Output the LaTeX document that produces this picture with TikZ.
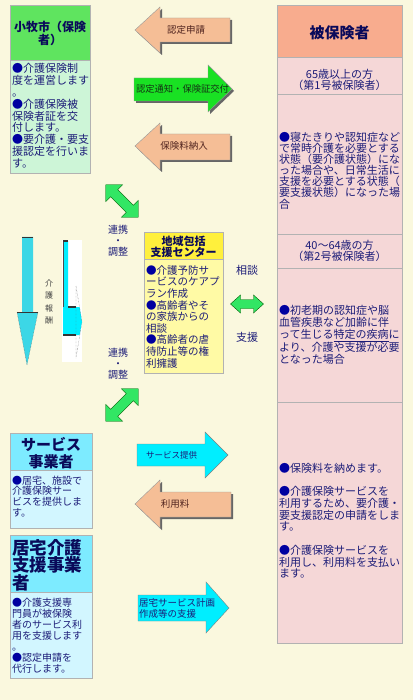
\documentclass[tikz,border=0pt]{standalone}
\usepackage{fontspec}
\setmainfont{Noto Sans CJK JP}
\usetikzlibrary{shadows}
\definecolor{bgcream}{RGB}{250,248,222}
\definecolor{navytext}{RGB}{28,28,120}
\definecolor{headtext}{RGB}{10,10,90}
\definecolor{bulletblue}{RGB}{0,0,160}
\definecolor{browntext}{RGB}{80,35,30}
\definecolor{darkgreentext}{RGB}{20,50,20}
\definecolor{komakihead}{RGB}{95,228,95}
\definecolor{komakibody}{RGB}{205,245,215}
\definecolor{insuredhead}{RGB}{248,172,142}
\definecolor{insuredbody}{RGB}{245,215,215}
\definecolor{centerhead}{RGB}{255,240,60}
\definecolor{centerbody}{RGB}{255,250,165}
\definecolor{servhead}{RGB}{125,235,255}
\definecolor{servbody}{RGB}{210,246,255}
\definecolor{orangefill}{RGB}{245,190,150}
\definecolor{greenfill}{RGB}{25,225,35}
\definecolor{cyanfill}{RGB}{0,238,255}
\definecolor{downcyan}{RGB}{60,215,230}
\definecolor{mintfill}{RGB}{50,230,100}
\newcommand{\jfs}[2]{\fontsize{#1}{#2}\selectfont}
\newcommand{\blt}{\textcolor{bulletblue}{●}}

\begin{document}
\begin{tikzpicture}[x=1pt,y=-1pt,
  cell/.style={draw=black!30,line width=0.5pt},
  body/.style={inner sep=0pt,anchor=north west,align=left,text=navytext},
  head/.style={inner sep=0pt,align=center,text=headtext},
  lbl/.style={inner sep=0pt,text=navytext},
  orangearrow/.style={fill=orangefill,draw=black!40,line width=0.4pt,drop shadow={shadow xshift=2pt,shadow yshift=-2pt,fill=black!60,opacity=1}},
  greenarrow/.style={fill=greenfill,draw=black!40,line width=0.4pt,drop shadow={shadow xshift=2pt,shadow yshift=-2pt,fill=black!60,opacity=1}},
  cyanarrow/.style={fill=cyanfill,draw=black!50,line width=0.4pt},
  twoway/.style={fill=mintfill,draw=green!35!black,line width=0.4pt},
  edge/.style={black!80,line width=1.4pt}]
\fill[bgcream] (0,0) rectangle (413,700);

\fill[komakihead] (10,5) rectangle (90,60);
\fill[komakibody] (10,60) rectangle (90,173);
\draw[cell] (10,5) rectangle (90,173);
\draw[cell] (10,60) -- (90,60);
\node[head,font=\bfseries\jfs{12}{13}] (komaki) at (50,33.5) {小牧市（保険\\者）};
\node[body,font=\jfs{11}{11.9}] (komakitext) at (12,63) {\blt 介護保険制\\度を運営します\\。\\\blt 介護保険被\\保険者証を交\\付します。\\\blt 要介護・要支\\援認定を行いま\\す。};

\fill[insuredhead] (277,5) rectangle (402,57);
\fill[insuredbody] (277,57) rectangle (402,643);
\draw[cell] (277,5) rectangle (402,643);
\foreach \yy in {57,94,234,268,402}
  \draw[cell] (277,\yy) -- (402,\yy);
\node[head,font=\bfseries\jfs{15}{16}] (insured) at (339.5,33) {被保険者};
\node[lbl,align=center,font=\jfs{11}{11.5}] (elder) at (339.5,80) {65歳以上の方\\（第1号被保険者）};
\node[body,font=\jfs{11}{11.1}] (eldertext) at (279,132) {\blt 寝たきりや認知症など\\で常時介護を必要とする\\状態（要介護状態）にな\\った場合や、日常生活に\\支援を必要とする状態（\\要支援状態）になった場\\合};
\node[lbl,align=center,font=\jfs{11}{11.5}] (middle) at (339.5,251) {40〜64歳の方\\（第2号被保険者）};
\node[body,font=\jfs{11}{12}] (middletext) at (279,305) {\blt 初老期の認知症や脳\\血管疾患など加齢に伴\\って生じる\underline{特定の疾病}に\\より、介護や支援が必要\\となった場合};
\node[body,font=\jfs{11}{11.7}] (duties) at (279,463) {\blt 保険料を納めます。\\[11.7pt]\blt 介護保険サービスを\\利用するため、要介護・\\要支援認定の申請をしま\\す。\\[11.7pt]\blt 介護保険サービスを\\利用し、利用料を支払い\\ます。};

\fill[centerhead] (144,232) rectangle (223,259);
\fill[centerbody] (144,259) rectangle (223,373);
\draw[cell] (144,232) rectangle (223,373);
\draw[cell] (144,259) -- (223,259);
\node[head,font=\bfseries\jfs{11}{10.5}] (center) at (183.5,247) {地域包括\\支援センター};
\node[body,font=\jfs{10.5}{11.6}] (centertext) at (146,265.3) {\blt 介護予防サ\\ービスのケアプ\\ラン作成\\\blt 高齢者やそ\\の家族からの\\相談\\\blt 高齢者の虐\\待防止等の権\\利擁護};

\fill[servhead] (10,433) rectangle (92,470);
\fill[servbody] (10,470) rectangle (92,528);
\draw[cell] (10,433) rectangle (92,528);
\draw[cell] (10,470) -- (92,470);
\node[head,font=\bfseries\jfs{15}{17}] (provider) at (51,453.5) {サービス\\事業者};
\node[body,font=\jfs{10}{10.7}] (providertext) at (12,475.5) {\blt 居宅、施設で\\介護保険サー\\ビスを提供しま\\す。};

\fill[servhead] (10,535) rectangle (92,592);
\fill[servbody] (10,592) rectangle (92,678);
\draw[cell] (10,535) rectangle (92,678);
\draw[cell] (10,592) -- (92,592);
\node[head,anchor=north west,align=left,font=\bfseries\jfs{17.5}{17.5}] (careplan) at (12,539) {居宅介護\\支援事業\\者};
\node[body,font=\jfs{10}{11}] (careplantext) at (12,597.5) {\blt 介護支援専\\門員が被保険\\者のサービス利\\用を支援します\\。\\\blt 認定申請を\\代行します。};

\filldraw[orangearrow] (135,30) -- (160,7) -- (160,18) -- (230,18) -- (230,42) -- (160,42) -- (160,53) -- cycle;
\node[lbl,font=\jfs{9.5}{10},text=browntext] (apply) at (186,30) {認定申請};
\filldraw[greenarrow] (134,78) -- (208,78) -- (208,65) -- (232,89) -- (208,112) -- (208,101) -- (134,101) -- cycle;
\node[lbl,font=\jfs{9.3}{10},text=darkgreentext] (notice) at (182.5,89) {認定通知・保険証交付};
\filldraw[orangearrow] (135,146) -- (160,123) -- (160,134) -- (230,134) -- (230,160) -- (160,160) -- (160,170) -- cycle;
\node[lbl,font=\jfs{9.5}{10},text=browntext] (premium) at (184,146) {保険料納入};

\filldraw[cyanarrow] (137,444) -- (205,444) -- (205,432) -- (228,455) -- (205,478) -- (205,466) -- (137,466) -- cycle;
\node[lbl,font=\jfs{8.5}{10}] (supply) at (171.5,455) {サービス提供};
\filldraw[orangearrow] (135,504) -- (160,480) -- (160,492) -- (231,492) -- (231,517) -- (160,517) -- (160,528) -- cycle;
\node[lbl,font=\jfs{9.5}{10},text=browntext] (charge) at (175,504) {利用料};
\filldraw[cyanarrow] (138,595) -- (206,595) -- (206,582) -- (229,608) -- (206,633) -- (206,621) -- (138,621) -- cycle;
\node[lbl,anchor=north west,align=left,font=\jfs{9.5}{10.5}] (support) at (139,598.7) {居宅サービス計画\\作成等の支援};

\begin{scope}[shift={(122,201)},rotate=-45]
\filldraw[twoway] (-23,0) -- (-11,-12) -- (-11,-5) -- (11,-5) -- (11,-12) -- (23,0) -- (11,12) -- (11,5) -- (-11,5) -- (-11,12) -- cycle;
\end{scope}
\begin{scope}[shift={(122,405)},rotate=45]
\filldraw[twoway] (-23,0) -- (-11,-12) -- (-11,-5) -- (11,-5) -- (11,-12) -- (23,0) -- (11,12) -- (11,5) -- (-11,5) -- (-11,12) -- cycle;
\end{scope}
\begin{scope}[shift={(247,304)}]
\filldraw[twoway] (-16.5,0) -- (-6.5,-9) -- (-6.5,-4.5) -- (6.5,-4.5) -- (6.5,-9) -- (16.5,0) -- (6.5,9) -- (6.5,4.5) -- (-6.5,4.5) -- (-6.5,9) -- cycle;
\end{scope}
\node[lbl,align=center,font=\jfs{10}{11}] (linktop) at (118,241) {連携\\・\\調整};
\node[lbl,align=center,font=\jfs{10}{11}] (linkbottom) at (118,364) {連携\\・\\調整};
\node[lbl,font=\jfs{11}{11}] (consult) at (247,270) {相談};
\node[lbl,font=\jfs{11}{11}] (aid) at (247,337) {支援};

\fill[downcyan] (22,237) -- (33,237) -- (33,312) -- (38,312) -- (27,365) -- (17,312) -- (22,312) -- cycle;
\draw[black!60,densely dotted] (17,312) -- (27,365) -- (38,312);
\draw[edge] (22,237.5) -- (33,237.5);
\draw[edge] (17,312.5) -- (38,312.5);
\node[lbl,align=center,font=\jfs{8}{12.5},text=black!75] (fee) at (49,302) {介\\護\\報\\酬};

\fill[white] (62,240) rectangle (82,362);
\fill[cyanfill] (63,241) -- (68,241) -- (68,307) -- (79.6,307) -- (82,322) -- (79.6,335) -- (63,335) -- cycle;
\draw[black!60,densely dotted] (76,286) -- (82,322) -- (76,358) -- cycle;
\draw[black!70,line width=0.6pt] (63,241) -- (63,307);
\draw[edge] (63,241) -- (68,241);
\draw[edge] (68,307) -- (76,307);
\draw[edge] (63,335) -- (76,335);
\end{tikzpicture}
\end{document}
